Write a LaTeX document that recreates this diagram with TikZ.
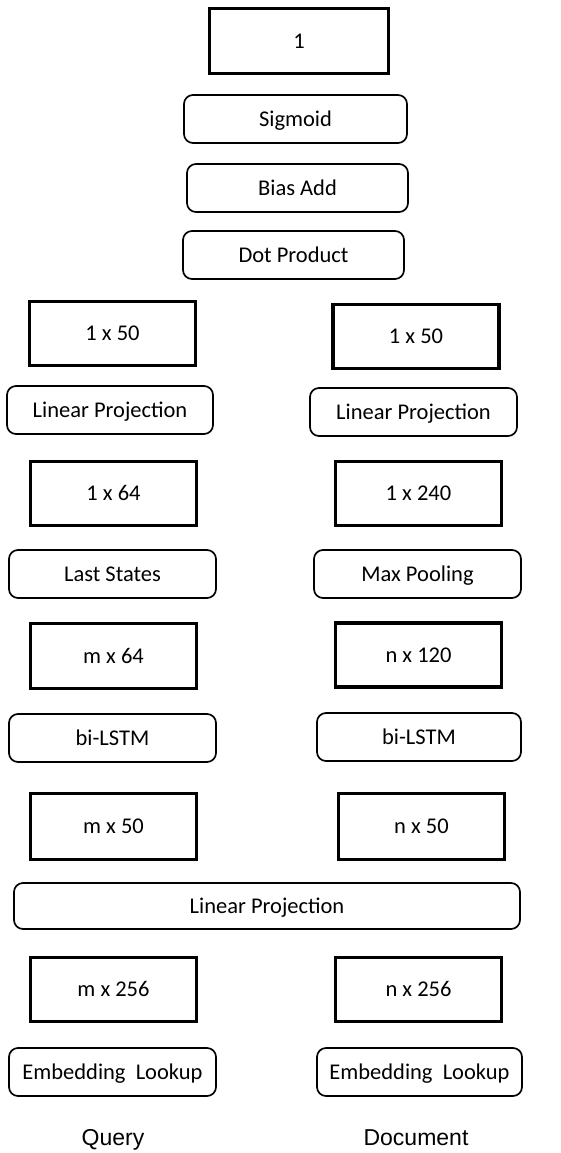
\documentclass[tikz,border=0pt]{standalone}
\usepackage{fontspec}
\setmainfont{Carlito}
\newfontfamily\labelfont{Liberation Sans}
\tikzset{
  shapebox/.style = {draw, line width = 3.2pt, minimum width = 166pt,
    minimum height = 64pt, inner sep = 0pt, text height = 14.5pt, text depth = 0pt},
  opbox/.style = {draw, line width = 1.7pt, rounded corners = 9pt,
    minimum width = 207pt, minimum height = 48pt, inner sep = 0pt,
    text height = 14.5pt, text depth = 0pt},
  inputlabel/.style = {font = \labelfont\fontsize{23}{27}\selectfont,
    inner sep = 0pt, text height = 16.5pt, text depth = 0pt},
}
\begin{document}
\begin{tikzpicture}[x = 1pt, y = -1pt, font = \fontsize{22.5}{27}\selectfont]
  \useasboundingbox (0,0) rectangle (560,1153);
  % shared top
  \node [shapebox, minimum width = 179pt, minimum height = 65pt] (out) at (299,41) {1};
  \node [opbox, minimum width = 223pt] (sigm) at (295.5,119) {Sigmoid};
  \node [opbox, minimum width = 221pt] (bias) at (297.5,188) {Bias Add};
  \node [opbox, minimum width = 221pt] (dot) at (293.5,255) {Dot Product};
  % query side
  \node [shapebox] (q50) at (112.5,333.5) {1 x 50};
  \node [opbox, minimum width = 206pt] (qproj) at (110,410) {Linear Projection};
  \node [shapebox] (q64) at (113.5,493.5) {1 x 64};
  \node [opbox] (qlast) at (112.5,574) {Last States};
  \node [shapebox, minimum height = 65pt] (qm64) at (113.5,656) {m x 64};
  \node [opbox] (qlstm) at (112.5,738) {bi-LSTM};
  \node [shapebox, minimum height = 66pt] (qm50) at (113.5,826.5) {m x 50};
  \node [shapebox] (qm256) at (113.5,989.5) {m x 256};
  \node [opbox] (qemb) at (112.5,1072) {Embedding\ \ Lookup};
  % document side
  \node [shapebox] (d50) at (416,336.5) {1 x 50};
  \node [opbox] (dproj) at (413.5,412) {Linear Projection};
  \node [shapebox] (d240) at (418.5,493.5) {1 x 240};
  \node [opbox] (dpool) at (417.5,574) {Max Pooling};
  \node [shapebox] (dn120) at (418.5,655) {n x 120};
  \node [opbox, minimum width = 204pt] (dlstm) at (419,737) {bi-LSTM};
  \node [shapebox, minimum height = 66pt] (dn50) at (421.5,826.5) {n x 50};
  \node [shapebox] (dn256) at (418.5,989.5) {n x 256};
  \node [opbox, minimum width = 205pt] (demb) at (419.5,1072) {Embedding\ \ Lookup};
  % shared projection
  \node [opbox, minimum width = 506pt, minimum height = 46pt] (proj) at (267,906) {Linear Projection};
  % inputs
  \node [inputlabel] (query) at (113,1137) {Query};
  \node [inputlabel] (doc) at (416,1137) {Document};
\end{tikzpicture}
\end{document}
